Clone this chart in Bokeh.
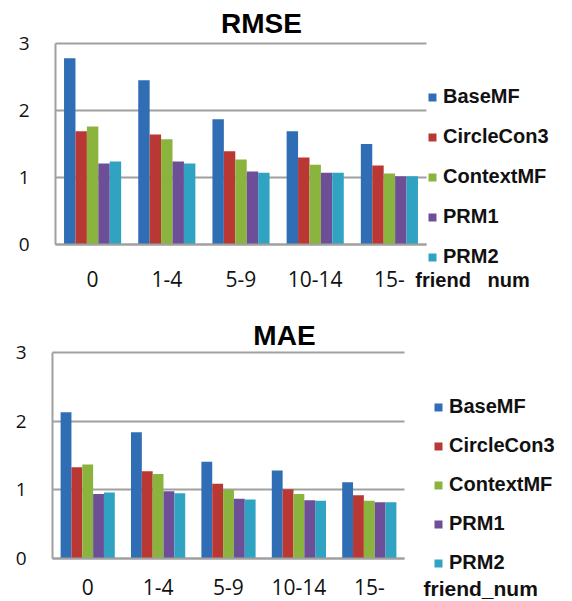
from bokeh.plotting import figure
from bokeh.models import Range1d, Legend, LegendItem, Label, FixedTicker, ColumnDataSource
from bokeh.embed import file_html
from bokeh.resources import INLINE

groups = ["0", "1-4", "5-9", "10-14", "15-"]
series = ["BaseMF", "CircleCon3", "ContextMF", "PRM1", "PRM2"]
colors = ["#2F6EB5", "#B93834", "#8BB43F", "#6D4F97", "#2FA3C1"]

rmse_basemf = [2.78, 2.45, 1.87, 1.69, 1.50]
rmse_circlecon3 = [1.69, 1.64, 1.39, 1.30, 1.18]
rmse_contextmf = [1.76, 1.57, 1.27, 1.19, 1.06]
rmse_prm1 = [1.21, 1.24, 1.09, 1.07, 1.02]
rmse_prm2 = [1.24, 1.21, 1.07, 1.07, 1.02]

mae_basemf = [2.13, 1.84, 1.41, 1.28, 1.11]
mae_circlecon3 = [1.33, 1.27, 1.09, 1.01, 0.92]
mae_contextmf = [1.37, 1.23, 1.00, 0.94, 0.84]
mae_prm1 = [0.94, 0.98, 0.87, 0.85, 0.82]
mae_prm2 = [0.96, 0.95, 0.86, 0.84, 0.82]

y_ticks = [0, 1, 2, 3]

GRID = "#A0A0A0"
TICK_FONT = "Open Sans"
BOLD_FONT = "Liberation Sans"


def make_chart(title, values, xlabel, height, xr, yr, legend_loc, legend_spacing,
               title_xy, xlabel_xy, x_standoff, xlabel_size):
    p = figure(width=572, height=height, x_range=Range1d(*xr), y_range=Range1d(*yr),
               output_backend="svg", toolbar_location=None, min_border=0,
               min_border_left=0, min_border_right=0, min_border_top=0,
               min_border_bottom=0)
    p.outline_line_color = None
    p.background_fill_color = "white"
    p.border_fill_color = "white"

    n = len(groups)
    centers = [i + 0.5 for i in range(n)]
    w = 0.154
    offsets = [-2 * w, -w, 0, w, 2 * w]
    renderers = []
    for s, c, off, v in zip(series, colors, offsets, values):
        src = ColumnDataSource({"x": [cx + off for cx in centers], "top": v})
        r = p.vbar(x="x", top="top", width=w, bottom=0, source=src,
                   fill_color=c, line_color=None)
        renderers.append(r)

    # axes drawn at data zero
    xax = p.xaxis[0]
    yax = p.yaxis[0]
    xax.fixed_location = 0
    yax.fixed_location = 0
    xax.bounds = (0, n)
    yax.bounds = (0, 3)
    xax.ticker = FixedTicker(ticks=centers)
    xax.major_label_overrides = {cx: g for cx, g in zip(centers, groups)}
    yax.ticker = FixedTicker(ticks=y_ticks)

    p.xgrid.grid_line_color = None
    grid = p.ygrid[0]
    grid.ticker = FixedTicker(ticks=y_ticks)
    if "cross_bounds" in grid.properties():
        grid.cross_bounds = (0, n)
        grid.grid_line_color = GRID
        grid.grid_line_width = 2
    else:
        grid.grid_line_color = None
        p.segment(x0=[0] * len(y_ticks), x1=[n] * len(y_ticks), y0=y_ticks, y1=y_ticks,
                  line_color=GRID, line_width=2)

    for ax in (xax, yax):
        ax.axis_line_color = GRID
        ax.axis_line_width = 2
        ax.major_tick_line_color = None
        ax.minor_tick_line_color = None
        ax.major_tick_in = 0
        ax.major_tick_out = 0
        ax.major_label_text_font = TICK_FONT
        ax.major_label_text_color = "#111111"
    yax.major_label_text_font_size = "19px"
    yax.major_label_standoff = 26
    xax.major_label_text_font_size = "21px"
    xax.major_label_standoff = x_standoff

    items = [LegendItem(label=s, renderers=[r]) for s, r in zip(series, renderers)]
    leg = Legend(items=items, location=legend_loc, orientation="vertical",
                 glyph_width=10, glyph_height=10, label_standoff=6,
                 spacing=legend_spacing, padding=0, margin=0,
                 border_line_color=None, background_fill_alpha=0,
                 label_text_font=BOLD_FONT, label_text_font_style="bold",
                 label_text_font_size="20px", label_text_color="#111111")
    p.add_layout(leg, "center")

    p.add_layout(Label(x=title_xy[0], y=title_xy[1], text=title,
                       text_font=BOLD_FONT, text_font_style="bold",
                       text_font_size="28px", text_align="center",
                       text_baseline="middle", text_color="#000000"))
    p.add_layout(Label(x=xlabel_xy[0], y=xlabel_xy[1], text=xlabel,
                       text_font=BOLD_FONT, text_font_style="bold",
                       text_font_size=xlabel_size, text_align="left",
                       text_baseline="middle", text_color="#111111"))
    return p


p1 = make_chart("RMSE",
                [rmse_basemf, rmse_circlecon3, rmse_contextmf, rmse_prm1, rmse_prm2],
                "friend\u00a0\u00a0\u00a0num", 300,
                (-55 / 74.2, (572 - 55) / 74.2), ((244 - 300) / 67.0, 244 / 67.0),
                (427, 32), 17, (2.776, 3.299), (4.85, -0.537), 26, "20px")
p2 = make_chart("MAE",
                [mae_basemf, mae_circlecon3, mae_contextmf, mae_prm1, mae_prm2],
                "friend_num", 301,
                (-52 / 70.4, (572 - 52) / 70.4), ((258 - 301) / 68.67, 258 / 68.67),
                (433, 27), 16, (3.295, 3.247), (5.27, -0.437), 20, "21px")

open("out.html", "w").write(file_html([p1, p2], INLINE))
